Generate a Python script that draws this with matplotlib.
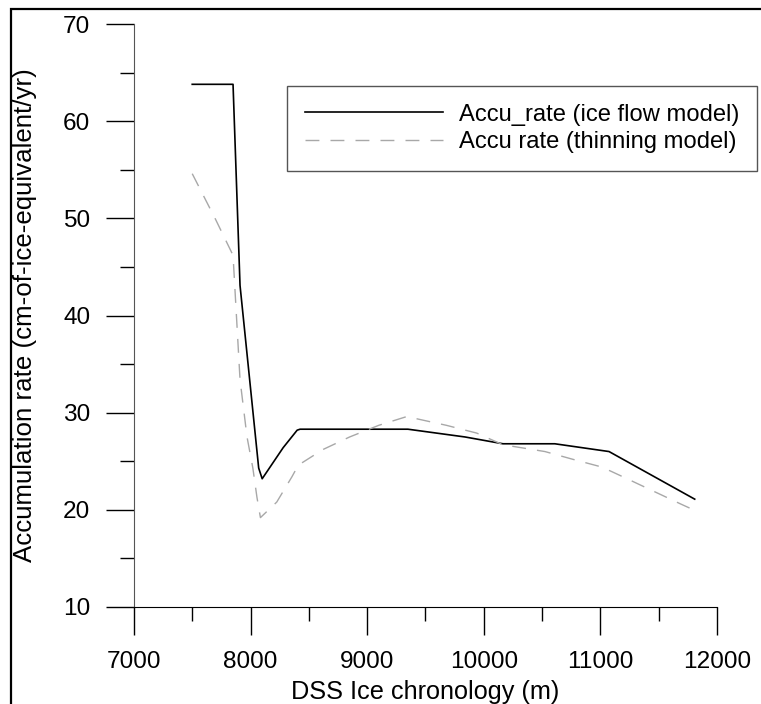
import matplotlib
matplotlib.use("Agg")
import matplotlib.pyplot as plt
from matplotlib.patches import Rectangle
from matplotlib.ticker import MultipleLocator

plt.rcParams["font.family"] = ["Liberation Sans", "DejaVu Sans"]

# ice flow model
flow_depth = [7500, 7850, 7910, 8070, 8100, 8280, 8400, 8425, 9350, 9840, 10165, 10610, 11075, 11810]
flow_rate = [63.8, 63.8, 43.1, 24.3, 23.2, 26.4, 28.2, 28.3, 28.3, 27.5, 26.8, 26.8, 26.0, 21.1]

# thinning model
thin_depth = [7500, 7700, 7850, 7910, 7970, 8020, 8055, 8085, 8225, 8355, 8410, 8620, 8850,
              9100, 9340, 9680, 9940, 10165, 10525, 10765, 11015, 11230, 11460, 11690, 11800]
thin_rate = [54.6, 49.9, 46.2, 33.4, 27.5, 24.3, 21.3, 19.2, 20.8, 23.4, 24.6, 26.2, 27.5,
             28.7, 29.6, 28.7, 27.9, 26.7, 26.0, 25.2, 24.4, 23.2, 21.9, 20.6, 20.0]

fig = plt.figure(figsize=(7.61, 7.04), dpi=100)
ax = fig.add_axes([0.176, 0.1378, 0.766, 0.828])

ax.plot(flow_depth, flow_rate, color="black", linewidth=1.2,
        label="Accu_rate (ice flow model)")
ax.plot(thin_depth, thin_rate, color="#a8a8a8", linewidth=1.0, dashes=(10, 8),
        label="Accu rate (thinning model)")

ax.set_xlim(7000, 12000)
ax.set_ylim(10, 70)
ax.xaxis.set_major_locator(MultipleLocator(1000))
ax.xaxis.set_minor_locator(MultipleLocator(500))
ax.yaxis.set_major_locator(MultipleLocator(10))
ax.yaxis.set_minor_locator(MultipleLocator(5))

for side in ("top", "right"):
    ax.spines[side].set_visible(False)
ax.spines["left"].set_color("#555555")
ax.spines["bottom"].set_color("black")

ax.tick_params(which="major", direction="out", length=20, width=1, labelsize=17.6)
ax.tick_params(which="minor", direction="out", length=10, width=1)
ax.tick_params(axis="x", which="major", pad=12)
ax.tick_params(axis="y", which="major", pad=11.5)

ax.set_xlabel("DSS Ice chronology (m)", fontsize=18.2)
ax.set_ylabel("Accumulation rate (cm-of-ice-equivalent/yr)", fontsize=18.6)
ax.xaxis.set_label_coords(0.5, -0.126)
ax.yaxis.set_label_coords(-0.166, 0.5)

leg = ax.legend(loc="upper right", bbox_to_anchor=(0.9947, 0.878),
                bbox_transform=fig.transFigure, borderaxespad=0,
                fontsize=17.1, handlelength=5.8, handletextpad=0.68,
                labelspacing=0.22, borderpad=0.75, fancybox=False,
                framealpha=1)
leg.get_frame().set_edgecolor("#555555")
leg.get_frame().set_linewidth(1.0)

# outer frame (only left and top visible in the crop)
fig.patches.append(Rectangle((0.0145, -0.5), 2.0, 0.987 + 0.5, transform=fig.transFigure,
                             fill=False, edgecolor="black", linewidth=1.6))

fig.savefig("out.png", dpi=100)
